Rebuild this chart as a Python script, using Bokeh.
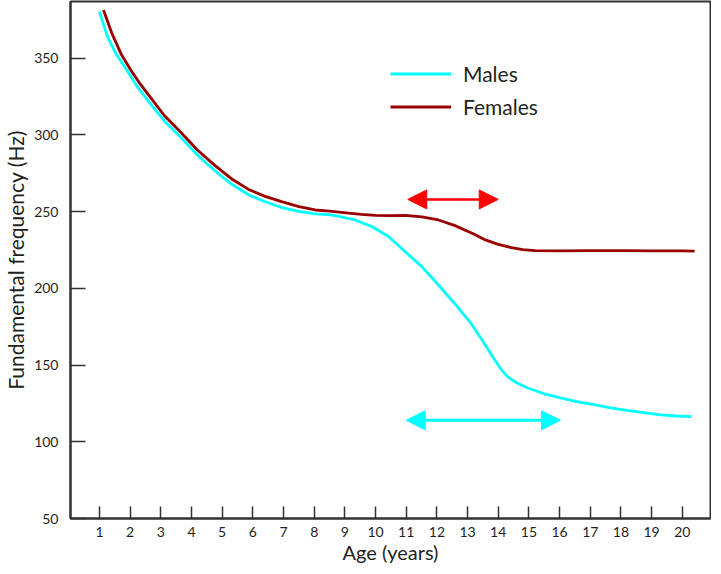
from bokeh.plotting import figure
from bokeh.models import (FixedTicker, Range1d, Legend, LegendItem, Arrow,
                          NormalHead)
from bokeh.embed import file_html
from bokeh.resources import INLINE

# ---------------- data ----------------
male_age = [1.0, 1.26, 1.55, 1.89, 2.25, 2.6, 3.1, 3.68, 4.2, 4.77, 5.3, 5.86,
            6.4, 6.94, 7.5, 8.03, 8.5, 8.8, 9.33, 9.88, 10.42, 10.96, 11.51,
            12.05, 12.65, 13.12, 13.5, 13.9, 14.1, 14.3, 14.6, 14.98, 15.5,
            16.06, 16.6, 17.17, 17.7, 18.25, 18.8, 19.3, 19.8, 20.3]
male_f0 = [380.4, 364.1, 352.5, 342.4, 331, 321.8, 309.5, 297.8, 286.8,
           276.5, 268, 261, 256.5, 252.7, 250.2, 248.5, 248.0, 246.9, 244.6,
           240.3, 233.8, 224.0, 214.2, 202.2, 188.5, 177, 165.5, 153, 147,
           142.5, 138.5, 134.9, 131.3, 128.4, 126, 124, 122, 120.3, 118.8,
           117.5, 116.8, 116.4]

female_age = [1.13, 1.4, 1.7, 2.02, 2.3, 2.6, 3.1, 3.68, 4.2, 4.77, 5.3, 5.86,
              6.4, 6.94, 7.5, 8.03, 8.5, 9.12, 9.54, 9.99, 10.5, 10.96, 11.51,
              12.05, 12.59, 13.2, 13.58, 14.0, 14.43, 14.8, 15.2, 16.0, 17.0,
              18.0, 19.0, 20.0, 20.4]
female_f0 = [381.5, 366.5, 353, 342.4, 334, 326.1, 313, 301.1, 290, 280,
             271.5, 264.5, 260, 256.6, 253.3, 251.1, 250.3, 249, 248.3, 247.6,
             247.4, 247.6, 246.6, 244.6, 240.9, 235.5, 231.6, 228.7, 226.6,
             225.2, 224.6, 224.5, 224.6, 224.6, 224.5, 224.4, 224.3]

# puberty ranges shown by double arrows: (start age, end age, level Hz)
female_range = [11.05, 14.0, 258]
male_range = [11.0, 16.03, 114]

x_ticks = list(range(1, 21))
y_ticks = [50, 100, 150, 200, 250, 300, 350]

series_names = ["Males", "Females"]
x_title = "Age (years)"
y_title = "Fundamental frequency (Hz)"
MALE_COLOR = "#00FFFF"
FEMALE_COLOR = "#990000"
ARROW_RED = "#FF0000"
TEXT = "#231F20"
FONT = "Lato"

# ---------------- figure ----------------
p = figure(frame_width=640, height=566, output_backend="svg", toolbar_location=None,
           x_range=Range1d(0.055, 20.92), y_range=Range1d(50, 387),
           min_border_left=64, min_border_right=1, min_border_top=1,
           min_border_bottom=40)
p.background_fill_color = "white"
p.border_fill_color = "white"
p.grid.visible = False
p.outline_line_color = "#333333"
p.outline_line_width = 2

r_m = p.line(male_age, male_f0, line_color=MALE_COLOR, line_width=2.8)
r_f = p.line(female_age, female_f0, line_color=FEMALE_COLOR, line_width=2.8)

# arrows
for rng, col, lw in [(female_range, ARROW_RED, 2.5), (male_range, MALE_COLOR, 3)]:
    arr = Arrow(x_start=rng[0], y_start=rng[2], x_end=rng[1], y_end=rng[2],
                line_color=col, line_width=lw,
                start=NormalHead(size=19, fill_color=col, line_color=col, line_width=1),
                end=NormalHead(size=19, fill_color=col, line_color=col, line_width=1))
    p.add_layout(arr)

# axes
for ax in (p.xaxis[0], p.yaxis[0]):
    ax.axis_line_color = "#333333"
    ax.axis_line_width = 2
    ax.major_tick_line_color = "#333333"
    ax.major_tick_line_width = 1.5
    ax.major_tick_out = 0
    ax.minor_tick_line_color = None
    ax.major_label_text_font = FONT
    ax.major_label_text_font_size = "14px"
    ax.major_label_text_color = TEXT
    ax.axis_label_text_font = FONT
    ax.axis_label_text_font_style = "normal"
    ax.axis_label_text_color = TEXT

p.xaxis.ticker = FixedTicker(ticks=x_ticks)
p.xaxis.major_tick_in = 12
p.xaxis.major_label_standoff = 8
p.xaxis.axis_label = x_title
p.xaxis.axis_label_text_font_size = "20px"
p.xaxis.axis_label_standoff = 0

p.yaxis.ticker = FixedTicker(ticks=y_ticks)
p.yaxis.major_tick_in = 15
p.yaxis.major_label_standoff = 12
p.yaxis.axis_label = y_title
p.yaxis.axis_label_text_font_size = "21px"
p.yaxis.axis_label_standoff = 3

legend = Legend(items=[LegendItem(label=series_names[0], renderers=[r_m]),
                       LegendItem(label=series_names[1], renderers=[r_f])],
                location=(320, 399), orientation="vertical",
                padding=0, margin=0, spacing=8,
                glyph_width=61, glyph_height=25, label_height=25,
                label_standoff=12,
                label_text_font=FONT, label_text_font_size="21px",
                label_text_color=TEXT,
                border_line_color=None, background_fill_alpha=0)
p.add_layout(legend)

open("out.html", "w").write(file_html(p, INLINE))
